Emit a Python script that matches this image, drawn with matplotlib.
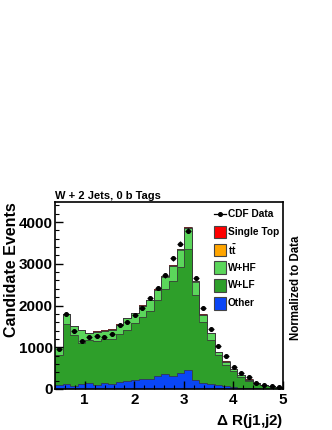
import numpy as np
import matplotlib
matplotlib.use("Agg")
import matplotlib.pyplot as plt
from matplotlib.patches import Rectangle
from matplotlib.lines import Line2D

plt.rcParams['font.family'] = ['Liberation Sans', 'DejaVu Sans']
plt.rcParams['mathtext.fontset'] = 'custom'
plt.rcParams['mathtext.rm'] = 'Liberation Sans:bold'
plt.rcParams['mathtext.it'] = 'Liberation Sans:bold'

# 30 bins of Delta R(j1,j2) between 0.4 and 5.0
edges = np.linspace(0.4, 5.0, 31)

other = [84, 108, 76, 108, 148, 84, 140, 124, 156, 180, 225, 237, 243, 300, 364,
         300, 395, 444, 210, 155, 108, 84, 68, 44, 30, 20, 15, 10, 8, 5]
w_lf = [719, 1455, 1207, 991, 1015, 1063, 1047, 1079, 1167, 1239, 1362, 1486, 1616, 1822, 2022,
        2278, 2527, 2918, 2040, 1448, 1055, 719, 512, 392, 254, 176, 115, 78, 52, 35]
w_hf = [197, 234, 220, 316, 180, 228, 212, 218, 218, 281, 231, 269, 268, 249, 306,
        371, 414, 486, 322, 173, 168, 75, 77, 45, 54, 31, 17, 12, 8, 5]
ttbar = [1, 2, 1, 1, 1, 1, 1, 2, 2, 2, 3, 3, 4, 5, 6,
         7, 8, 10, 6, 4, 3, 2, 1, 1, 1, 0, 0, 0, 0, 0]
single_top = [2, 4, 3, 3, 3, 3, 3, 4, 4, 5, 6, 7, 8, 10, 12,
              14, 18, 22, 12, 7, 5, 3, 2, 2, 1, 1, 1, 0, 0, 0]
data = [955, 1787, 1379, 1139, 1243, 1267, 1243, 1323, 1523, 1603, 1779, 1938, 2178, 2420, 2720,
        3130, 3482, 3790, 2658, 1946, 1427, 1019, 787, 524, 388, 284, 148, 100, 68, 36]

layers = [("Other", other, "#0a46f5"),
          ("W+LF", w_lf, "#2e9f2a"),
          ("W+HF", w_hf, "#5bd65b"),
          (r"$t\bar{t}$", ttbar, "#ffa500"),
          ("Single Top", single_top, "#ff0000")]

fig = plt.figure(figsize=(3.32, 4.30), dpi=100)
W, H = 332, 430
ax = fig.add_axes([55 / W, 1 - 389 / H, 228 / W, 187 / H])

base = np.zeros(30)
for name, vals, col in layers:
    top = base + np.array(vals, dtype=float)
    ax.stairs(top, edges, baseline=base, fill=True, color=col, lw=0)
    base = top
# outlines of the stacked layers
base = np.zeros(30)
for name, vals, col in layers:
    base = base + np.array(vals, dtype=float)
    ax.stairs(base, edges, baseline=None, color="#3a3a3a", lw=0.7, alpha=0.8)

centers = 0.5 * (edges[:-1] + edges[1:])
d = np.array(data, dtype=float)
ax.errorbar(centers, d, yerr=np.sqrt(d), xerr=0.06, fmt="o", ms=2.6, color="k",
            lw=0.9, capsize=0)

ax.set_xlim(0.4, 5.0)
ax.set_ylim(0, 4480)
ax.set_xticks([1, 2, 3, 4, 5])
ax.set_xticks(np.arange(0.4, 5.01, 0.2), minor=True)
ax.set_yticks([0, 1000, 2000, 3000, 4000])
ax.set_yticks(np.arange(0, 4480, 200), minor=True)
ax.tick_params(which="both", direction="in", top=False, right=False)
ax.tick_params(which="major", length=5.5, width=1)
ax.tick_params(which="minor", length=2.8, width=0.8)
ax.tick_params(axis="y", pad=1.5)
ax.tick_params(axis="x", pad=3)
for lab in ax.get_xticklabels() + ax.get_yticklabels():
    lab.set_fontsize(11)
    lab.set_fontweight("bold")
for s in ax.spines.values():
    s.set_linewidth(1.2)

fig.text(55 / W, 1 - 196 / H, "W + 2 Jets, 0 b Tags", fontsize=8, fontweight="bold",
         ha="left", va="center")
fig.text(12 / W, 1 - 270 / H, "Candidate Events", fontsize=11.5, fontweight="bold",
         rotation=90, ha="center", va="center")
fig.text(283 / W, 1 - 421 / H, r"$\Delta$ R(j1,j2)", fontsize=11, fontweight="bold",
         ha="right", va="center")
fig.text(296 / W, 1 - 288 / H, "Normalized to Data", fontsize=8.3, fontweight="bold",
         rotation=90, ha="center", va="center")

# legend drawn by hand in pixel positions of the figure
rows = [214.3 + 17.8 * i for i in range(6)]
fig.add_artist(Line2D([214 / W, 226 / W], [1 - rows[0] / H] * 2, color="k", lw=0.9))
fig.add_artist(Line2D([220 / W], [1 - rows[0] / H], marker="o", ms=2.6, color="k"))
fig.text(228 / W, 1 - rows[0] / H, "CDF Data", fontsize=7.3, fontweight="bold",
         ha="left", va="center")
for i, (name, vals, col) in enumerate(reversed(layers)):
    y = rows[i + 1]
    fig.add_artist(Rectangle((214.3 / W, 1 - (y + 6.3) / H), 11.7 / W, 12.6 / H,
                             facecolor=col, edgecolor="#444444", lw=0.8))
    fig.text(228 / W, 1 - y / H, name, fontsize=7.3, fontweight="bold",
             ha="left", va="center")

fig.savefig("out.png", dpi=100)
